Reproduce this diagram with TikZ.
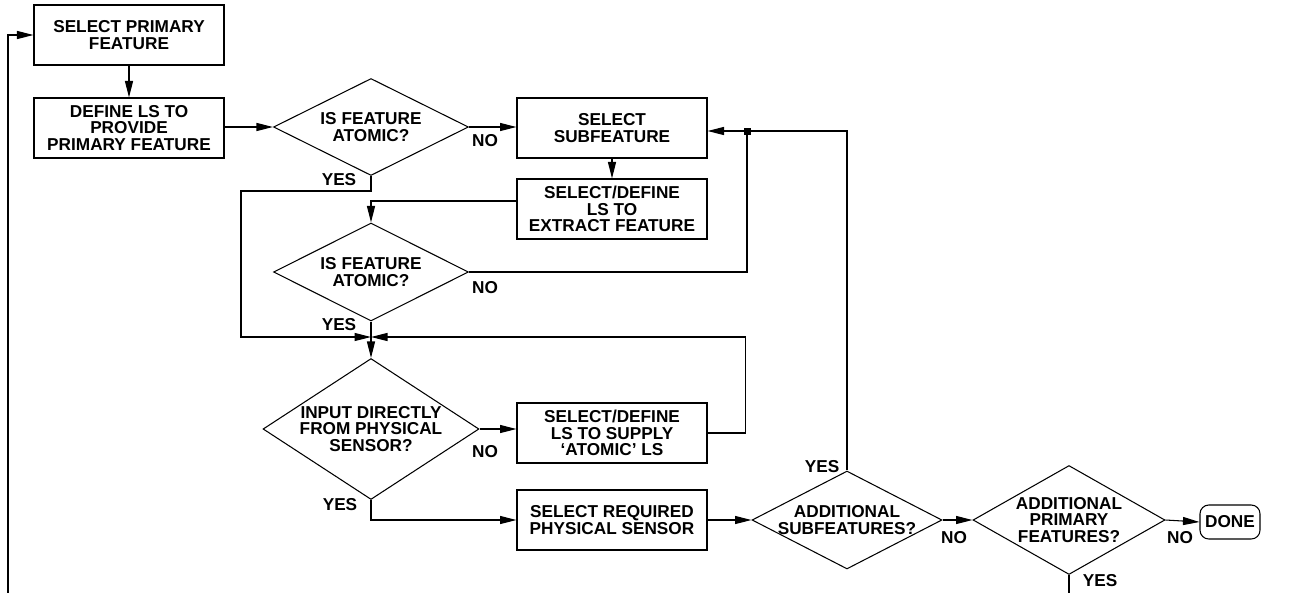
\documentclass[tikz,border=0pt]{standalone}
\usepackage{fontspec}
\setmainfont{Liberation Sans}
\usetikzlibrary{shapes.geometric, arrows.meta}

\tikzset{
  stepbox/.style={draw, minimum width=3.8cm, minimum height=1.2cm, align=center, inner sep=1pt},
  decision/.style={draw, diamond, align=center, inner sep=-2pt},
  lbl/.style={inner sep=0pt},
  arr/.style={-{Triangle[length=0.33cm, width=0.16cm]}},
}

\begin{document}
\begin{tikzpicture}[x=0.02cm, y=-0.02cm, line width=0.6pt,
    every node/.style={font=\bfseries\fontsize{9.8}{9.4}\selectfont}]
  \useasboundingbox (0,0) rectangle (1302,592);
  \clip (0,0) rectangle (1302,592);

  \node [stepbox] (spf) at (129,35) {SELECT PRIMARY\\FEATURE};
  \node [stepbox] (dls) at (129,128) {DEFINE LS TO\\PROVIDE\\PRIMARY FEATURE};

  \node [decision, aspect=2, minimum width=3.9cm, minimum height=1.94cm] (d1) at (371,127) {IS FEATURE\\ATOMIC?};
  \node [stepbox] (ssf) at (612,128) {SELECT\\SUBFEATURE};
  \node [stepbox] (sdl) at (612,209) {SELECT/DEFINE\\LS TO\\EXTRACT FEATURE};

  \node [decision, aspect=2, minimum width=3.9cm, minimum height=1.96cm] (d2) at (371,272) {IS FEATURE\\ATOMIC?};

  \node [decision, aspect=1.53, minimum width=4.32cm, minimum height=2.82cm] (d4) at (371,429) {INPUT DIRECTLY\\FROM PHYSICAL\\SENSOR?};
  \node [stepbox] (ssa) at (612,433) {SELECT/DEFINE\\LS TO SUPPLY\\`ATOMIC' LS};
  \node [stepbox] (ssr) at (612,520) {SELECT REQUIRED\\PHYSICAL SENSOR};

  \node [decision, aspect=1.94, minimum width=3.8cm, minimum height=1.96cm] (d3) at (847,520) {ADDITIONAL\\SUBFEATURES?};
  \node [decision, aspect=1.76, minimum width=3.84cm, minimum height=2.18cm] (d5) at (1069,520) {ADDITIONAL\\PRIMARY\\FEATURES?};
  \node [draw, rounded corners=5pt, minimum width=1.2cm, minimum height=0.68cm, inner sep=1pt] (done) at (1230,522) {DONE};

  \coordinate (jn) at (747,131);
  \coordinate (mg) at (371,337);

  % yes / no labels
  \node [lbl] (n1) at (485,141) {NO};
  \node [lbl] (y1) at (339,180) {YES};
  \node [lbl] (n2) at (485,288) {NO};
  \node [lbl] (y2) at (339,325) {YES};
  \node [lbl] (n4) at (485,452) {NO};
  \node [lbl] (y4) at (340,505) {YES};
  \node [lbl] (y3) at (822,467) {YES};
  \node [lbl] (n3) at (954,538) {NO};
  \node [lbl] (n5) at (1180,538) {NO};
  \node [lbl] (y5) at (1100,581) {YES};

  \draw [arr] (spf) -- (dls);
  \draw [arr] (d1.west -| dls.east) -- (d1.west);
  \draw [arr] (d1.east) -- (d1.east -| ssf.west);
  \draw [arr] (ssf) -- (sdl);
  \draw [arr] ([yshift=0.16cm]sdl.west) -| (d2.north);

  \draw (d2.east) -| (jn);
  \draw (d3.north) |- (jn);
  \draw [arr] (jn) -- (ssf.east |- jn);
  \fill ([shift={(-3.5,-3.5)}]jn) rectangle ([shift={(3.5,3.5)}]jn);

  \draw [arr] (d1.south) -- ++(0,15) -| (241,300) |- (mg);
  \draw [arr] (ssa.east) -- ++(38,0) |- (mg);
  \draw [arr] (d2.south) -- (d4.north);

  \draw [arr] (d4.east) -- (d4.east -| ssa.west);
  \draw [arr] (d4.south) |- (ssr.west);
  \draw [arr] (ssr.east) -- (d3.west);
  \draw [arr] (d3.east) -- (d5.west);
  \draw [arr] (d5.east) -- (done.west);

  \draw [arr] (d5.south) -- ++(0,60) -| (8,300) |- (spf.west);
\end{tikzpicture}
\end{document}
